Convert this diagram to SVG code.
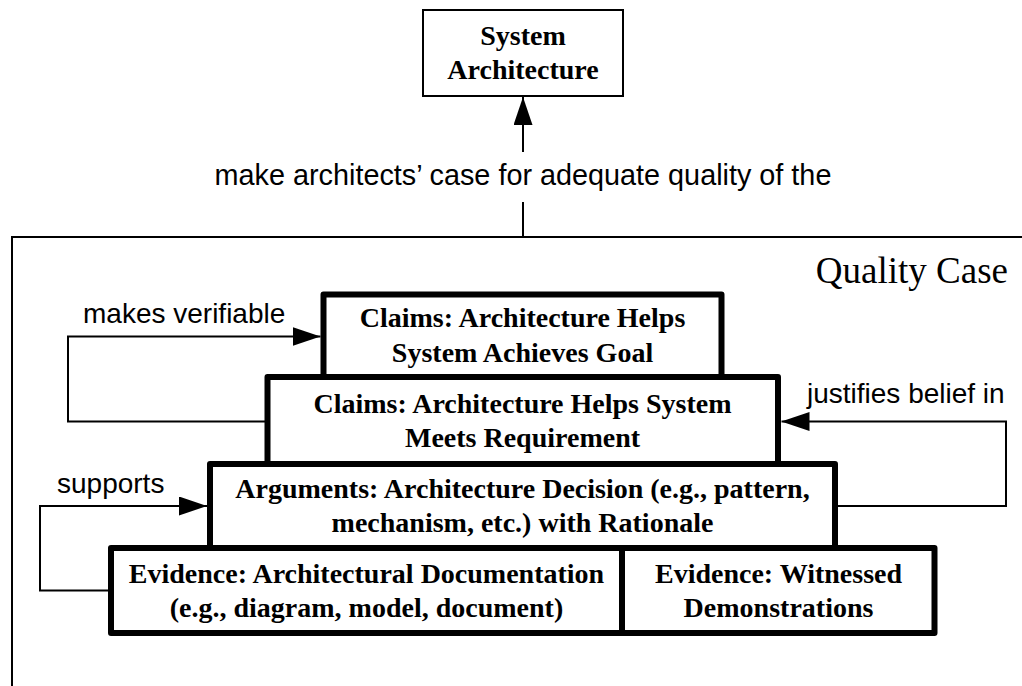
<svg xmlns="http://www.w3.org/2000/svg" width="1022" height="686" viewBox="0 0 1022 686">
  <style>
    .box { fill: #fff; stroke: #000; stroke-width: 6; stroke-linejoin: round; }
    .sys { fill: #fff; stroke: #000; stroke-width: 2; }
    .frame { fill: none; stroke: #000; stroke-width: 2; }
    .conn { fill: none; stroke: #000; stroke-width: 2; }
    .bt { font-family: "Liberation Serif", "Times New Roman", serif; font-weight: bold; font-size: 28px; text-anchor: middle; fill: #000; }
    .lbl { font-family: "Liberation Sans", Arial, sans-serif; font-size: 28px; fill: #000; }
    .title { font-family: "Liberation Serif", "Times New Roman", serif; font-size: 37px; fill: #000; }
  </style>
  <defs>
    <marker id="arrow" markerWidth="28" markerHeight="19" refX="28" refY="9.5" orient="auto" markerUnits="userSpaceOnUse">
      <path d="M0,0 L28,9.5 L0,19 Z" fill="#000"/>
    </marker>
  </defs>
  <rect width="1022" height="686" fill="#fff"/>

  <!-- Quality Case container -->
  <g id="quality-case">
    <rect class="frame" x="12" y="237" width="1040" height="500"/>
    <text class="title" x="1008" y="283" text-anchor="end">Quality Case</text>
  </g>

  <!-- System Architecture -->
  <g id="system-architecture">
    <rect class="sys" x="423" y="10" width="200" height="86"/>
    <text class="bt" x="523" y="45">System</text>
    <text class="bt" x="523" y="79">Architecture</text>
  </g>

  <!-- Layered blocks of the quality case -->
  <g id="claims-goal">
    <rect class="box" x="323.5" y="294.5" width="398" height="82.5"/>
    <text class="bt" x="522.5" y="327">Claims: Architecture Helps</text>
    <text class="bt" x="522.5" y="362">System Achieves Goal</text>
  </g>
  <g id="claims-requirement">
    <rect class="box" x="267.5" y="377" width="510.5" height="87"/>
    <text class="bt" x="522.5" y="413">Claims: Architecture Helps System</text>
    <text class="bt" x="522.5" y="447">Meets Requirement</text>
  </g>
  <g id="arguments">
    <rect class="box" x="210" y="464" width="625" height="84"/>
    <text class="bt" x="522.5" y="498">Arguments: Architecture Decision (e.g., pattern,</text>
    <text class="bt" x="522.5" y="532">mechanism, etc.) with Rationale</text>
  </g>
  <g id="evidence-documentation">
    <rect class="box" x="111" y="548" width="511" height="85"/>
    <text class="bt" x="366.5" y="583">Evidence: Architectural Documentation</text>
    <text class="bt" x="366.5" y="617">(e.g., diagram, model, document)</text>
  </g>
  <g id="evidence-demonstrations">
    <rect class="box" x="622" y="548" width="312.5" height="85"/>
    <text class="bt" x="778.5" y="583">Evidence: Witnessed</text>
    <text class="bt" x="778.5" y="617">Demonstrations</text>
  </g>

  <!-- Connectors -->
  <g id="connectors">
    <line class="conn" x1="523" y1="237" x2="523" y2="202"/>
    <line class="conn" x1="523" y1="152" x2="523" y2="97" marker-end="url(#arrow)"/>
    <polyline class="conn" points="266,421.5 68,421.5 68,336.5 320.5,336.5" marker-end="url(#arrow)"/>
    <polyline class="conn" points="838,506 1006,506 1006,421.5 781.5,421.5" marker-end="url(#arrow)"/>
    <polyline class="conn" points="109,590.5 40,590.5 40,506 207,506" marker-end="url(#arrow)"/>
  </g>

  <!-- Connector labels -->
  <g id="labels">
    <text class="lbl" x="523" y="185" text-anchor="middle" style="font-size:28.8px">make architects’ case for adequate quality of the</text>
    <text class="lbl" x="83" y="323">makes verifiable</text>
    <text class="lbl" x="807" y="403">justifies belief in</text>
    <text class="lbl" x="57" y="493">supports</text>
  </g>
</svg>
